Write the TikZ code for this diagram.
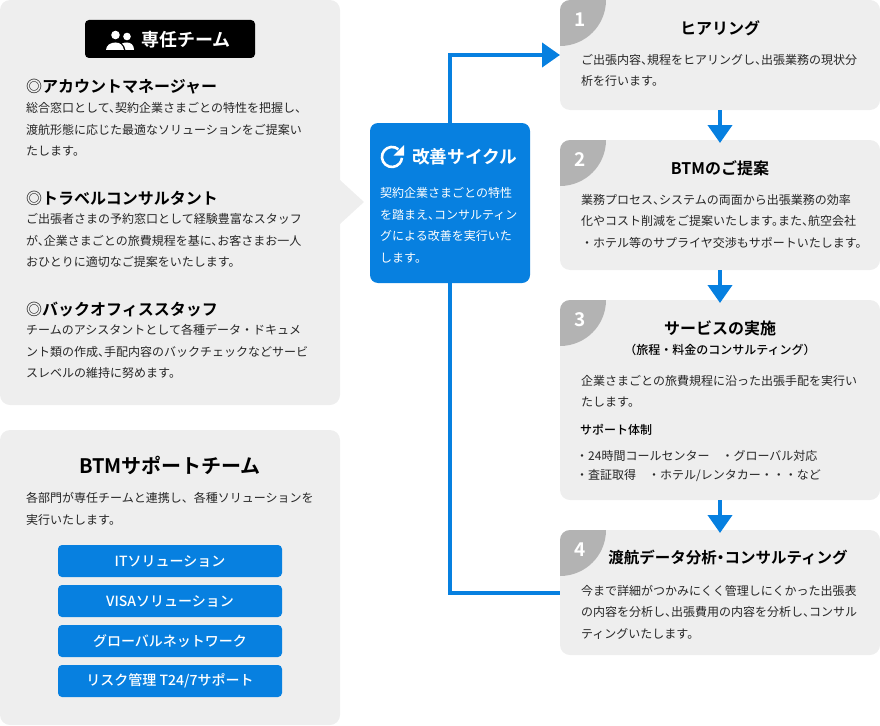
\documentclass[tikz,border=0pt]{standalone}
\usepackage{fontspec}
\setmainfont[BoldFont={Noto Sans CJK JP Bold}]{Noto Sans CJK JP}
\newfontfamily\medfont{Noto Sans CJK JP Medium}
\newcommand{\nc}{、\kern-6pt\relax}
\newcommand{\nm}{。\kern-6pt\relax}
\definecolor{panelgray}{HTML}{EEEEEE}
\definecolor{tabgray}{HTML}{B3B3B3}
\definecolor{bluefill}{HTML}{0780E0}
\usetikzlibrary{arrows.meta}
\tikzset{
  panel/.style={fill=panelgray,draw=none,rounded corners=10pt},
  bluebox/.style={fill=bluefill,draw=none,rounded corners=4pt,text=white,font=\fontsize{14}{16}\medfont,align=center,minimum width=224pt,minimum height=32pt,inner sep=0pt},
  bodytext/.style={anchor=north west,inner sep=0pt,align=left,font=\fontsize{12}{21.5}\selectfont,text=black!85},
  headtext/.style={anchor=west,inner sep=0pt,font=\fontsize{16}{18}\selectfont\bfseries},
  titletext/.style={anchor=center,inner sep=0pt,font=\fontsize{16}{18}\selectfont\bfseries},
  numtext/.style={anchor=center,inner sep=0pt,text=white,font=\fontsize{19}{22}\selectfont\bfseries},
  flow/.style={draw=bluefill,line width=4pt},
  flowarrow/.style={draw=bluefill,line width=4pt,-{Triangle[length=18pt,width=24pt,fill=bluefill]}},
}
\begin{document}
\begin{tikzpicture}[x=1pt,y=-1pt]
\useasboundingbox (0,0) rectangle (880,725);
% left panels
\fill[panelgray] (340,180) -- (364,202) -- (340,224) -- cycle;
\path[panel] (0,0) rectangle (340,405);
\path[panel] (0,430) rectangle (340,725);
% header
\node[fill=black,rounded corners=4pt,minimum width=170pt,minimum height=38pt,inner sep=0pt] (head) at (170,39) {};
\node[anchor=west,inner sep=0pt,text=white,font=\fontsize{18}{20}\selectfont\bfseries] (headlabel) at (141,39.5) {専任チーム};
\fill[white] (115.5,35) circle (4.3pt);
\fill[white] (106,50) .. controls (106,45) and (111,42.5) .. (115.5,42.5) .. controls (120,42.5) and (123,45) .. (124,50) -- cycle;
\fill[white] (127,36.5) circle (3.8pt);
\fill[white] (125.5,50) .. controls (125,47) and (124,45) .. (122,43.5) .. controls (124,42.5) and (126,42.5) .. (127,42.5) .. controls (131,42.5) and (134,45) .. (134,50) -- cycle;
% left panel text
\node[headtext] (h1) at (26,87) {{\mdseries ◎}アカウントマネージャー};
\node[bodytext] (t1) at (26,102.5) {総合窓口として\nc 契約企業さまごとの特性を把握し、\\渡航形態に応じた最適なソリューションをご提案い\\たします。};
\node[headtext] (h2) at (26,198) {{\mdseries ◎}トラベルコンサルタント};
\node[bodytext] (t2) at (26,213.5) {ご出張者さまの予約窓口として経験豊富なスタッフ\\が\nc 企業さまごとの旅費規程を基に\nc お客さまお一人\\おひとりに適切なご提案をいたします。};
\node[headtext] (h3) at (26,309) {{\mdseries ◎}バックオフィススタッフ};
\node[bodytext] (t3) at (26,324.5) {チームのアシスタントとして各種データ・ドキュメ\\ント類の作成\nc 手配内容のバックチェックなどサービ\\スレベルの維持に努めます。};
% support team
\node[inner sep=0pt,font=\fontsize{20}{22}\selectfont\bfseries] (s0) at (170,465) {BTMサポートチーム};
\node[bodytext] (s1) at (26,492.5) {各部門が専任チームと連携し、各種ソリューションを\\実行いたします。};
\node[bluebox] (b1) at (170,561) {\raisebox{-0.8pt}{ITソリューション}};
\node[bluebox] (b2) at (170,601) {\raisebox{-0.8pt}{VISAソリューション}};
\node[bluebox] (b3) at (170,641) {\raisebox{-0.8pt}{グローバルネットワーク}};
\node[bluebox] (b4) at (170,681) {\raisebox{-0.8pt}{リスク管理 T24/7サポート}};
% centre box
\node[fill=bluefill,rounded corners=8pt,minimum width=160pt,minimum height=160pt,inner sep=0pt] (cycle) at (450,203) {};
\node[anchor=west,inner sep=0pt,text=white,font=\fontsize{17.7}{22}\selectfont\bfseries] (cycletitle) at (412,157) {改善サイクル};
\node[bodytext,text=white] (cycletext) at (380,187.5) {契約企業さまごとの特性\\を踏まえ\nc コンサルティン\\グによる改善を実行いた\\します。};
\draw[white,line width=2.6pt] (398.4,149.3) arc[start angle=50,end angle=355,radius=10pt];
\fill[white] (404,145) -- (404,155.5) -- (393.5,155.5) -- cycle;
% step boxes
\path[panel] (560,0) rectangle (880,110);
\path[panel] (560,140) rectangle (880,270);
\path[panel] (560,300) rectangle (880,500);
\path[panel] (560,530) rectangle (880,655);
\foreach \yy in {0,140,300,530}{
  \fill[tabgray] (560,\yy+46) -- (560,\yy+10) arc[start angle=180,end angle=90,radius=10pt] -- (606,\yy) arc[start angle=0,end angle=-90,radius=46pt] -- cycle;
}
\node[numtext] (n1) at (580,20) {1};
\node[numtext] (n2) at (580,160) {2};
\node[numtext] (n3) at (580,320) {3};
\node[numtext] (n4) at (580,550) {4};
\node[titletext] (st1) at (720,28) {ヒアリング};
\node[bodytext] (sb1) at (581,54) {ご出張内容\nc 規程をヒアリングし\nc 出張業務の現状分\\析を行います。};
\node[titletext] (st2) at (720,168) {BTMのご提案};
\node[bodytext] (sb2) at (581,194) {業務プロセス\nc システムの両面から出張業務の効率\\化やコスト削減をご提案いたします\nm また\nc 航空会社\\・ホテル等のサプライヤ交渉もサポートいたします。};
\node[titletext] (st3) at (720,328) {サービスの実施};
\node[anchor=center,inner sep=0pt,font=\fontsize{12}{14}\medfont] (st3b) at (720,350) {（旅程・料金のコンサルティング）};
\node[bodytext] (sb3) at (581,375) {企業さまごとの旅費規程に沿った出張手配を実行い\\たします。};
\node[anchor=west,inner sep=0pt,font=\fontsize{12}{14}\medfont] (sup) at (580,430) {サポート体制};
\node[bodytext,font=\fontsize{12}{19}\selectfont] (sl) at (576,450) {・24時間コールセンター　・グローバル対応\\・査証取得　・ホテル/レンタカー・・・など};
\node[titletext,font=\fontsize{15.5}{18}\selectfont\bfseries] (st4) at (728,558) {渡航データ分析\kern-3.9pt・\kern-3.9pt コンサルティング};
\node[bodytext] (sb4) at (581,585) {今まで詳細がつかみにくく管理しにくかった出張表\\の内容を分析し\nc 出張費用の内容を分析し\nc コンサル\\ティングいたします。};
% anchors for connectors
\coordinate (s1bot) at (720,110);
\coordinate (s2tip) at (720,143);
\coordinate (s2bot) at (720,270);
\coordinate (s3tip) at (720,303);
\coordinate (s3bot) at (720,500);
\coordinate (s4tip) at (720,533);
\coordinate (s1left) at (560,55);
\coordinate (s4left) at (560,593);
% connectors
\draw[flowarrow] (cycle.north) |- (s1left);
\draw[flow] (cycle.south) |- (s4left);
\draw[flowarrow] (s1bot) -- (s2tip);
\draw[flowarrow] (s2bot) -- (s3tip);
\draw[flowarrow] (s3bot) -- (s4tip);
\end{tikzpicture}
\end{document}
